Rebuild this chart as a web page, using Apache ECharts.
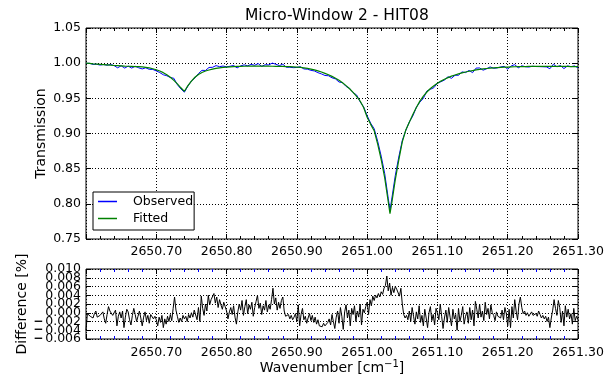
<!DOCTYPE html>
<html>
<head>
<meta charset="utf-8">
<script src="https://cdn.jsdelivr.net/npm/echarts@6/dist/echarts.min.js"></script>
<style>html,body{margin:0;padding:0;background:#fff}#c{width:607px;height:380px}</style>
</head>
<body>
<div id="c"></div>
<script>
// ---- data ----
const titleText = 'Micro-Window 2 - HIT08';
const seriesNames = ['Observed', 'Fitted'];
const xMin = 2650.60, xMax = 2651.30, xInterval = 0.1;
const topYMin = 0.75, topYMax = 1.05, topYInterval = 0.05;
const diffYMin = -0.006, diffYMax = 0.010, diffYInterval = 0.002;
// tick labels of the difference axis drawn on a second, identical axis (they overlap in the original)
const diffAltTicks = [0.008, -0.004];

const topWn = [
2650.600,2650.605,2650.610,2650.615,2650.620,2650.625,2650.630,2650.635,2650.640,2650.645,
2650.650,2650.655,2650.660,2650.665,2650.670,2650.675,2650.680,2650.685,2650.690,2650.695,
2650.700,2650.705,2650.710,2650.715,2650.720,2650.725,2650.730,2650.735,2650.740,2650.745,
2650.750,2650.755,2650.760,2650.765,2650.770,2650.775,2650.780,2650.785,2650.790,2650.795,
2650.800,2650.805,2650.810,2650.815,2650.820,2650.825,2650.830,2650.835,2650.840,2650.845,
2650.850,2650.855,2650.860,2650.865,2650.870,2650.875,2650.880,2650.885,2650.890,2650.895,
2650.900,2650.905,2650.910,2650.915,2650.920,2650.925,2650.930,2650.935,2650.940,2650.945,
2650.950,2650.955,2650.960,2650.965,2650.970,2650.975,2650.980,2650.985,2650.990,2650.995,
2651.000,2651.005,2651.010,2651.015,2651.020,2651.025,2651.030,2651.0325,2651.035,2651.040,
2651.045,2651.050,2651.055,2651.060,2651.065,2651.070,2651.075,2651.080,2651.085,2651.090,
2651.095,2651.100,2651.105,2651.110,2651.115,2651.120,2651.125,2651.130,2651.135,2651.140,
2651.145,2651.150,2651.155,2651.160,2651.165,2651.170,2651.175,2651.180,2651.185,2651.190,
2651.195,2651.200,2651.205,2651.210,2651.215,2651.220,2651.225,2651.230,2651.235,2651.240,
2651.245,2651.250,2651.255,2651.260,2651.265,2651.270,2651.275,2651.280,2651.285,2651.290,
2651.295,2651.300];

const fitted = [
1.0000,0.9996,0.9991,0.9987,0.9983,0.9979,0.9975,0.9971,0.9967,0.9964,
0.9961,0.9958,0.9956,0.9954,0.9952,0.9950,0.9946,0.9940,0.9932,0.9921,
0.9906,0.9888,0.9865,0.9835,0.9800,0.9755,0.9705,0.9650,0.9600,0.9680,
0.9745,0.9800,0.9840,0.9868,0.9888,0.9903,0.9915,0.9925,0.9933,0.9939,
0.9944,0.9948,0.9951,0.9953,0.9955,0.9956,0.9957,0.9958,0.9958,0.9958,
0.9958,0.9958,0.9957,0.9956,0.9955,0.9954,0.9953,0.9952,0.9950,0.9948,
0.9945,0.9940,0.9934,0.9926,0.9916,0.9905,0.9891,0.9875,0.9855,0.9835,
0.9812,0.9786,0.9756,0.9721,0.9681,0.9636,0.9585,0.9528,0.9462,0.9370,
0.9230,0.9130,0.9040,0.8850,0.8630,0.8370,0.8030,0.7860,0.8010,0.8340,
0.8620,0.8880,0.9050,0.9160,0.9270,0.9370,0.9460,0.9530,0.9590,0.9640,
0.9680,0.9715,0.9745,0.9772,0.9795,0.9815,0.9832,0.9848,0.9862,0.9874,
0.9885,0.9895,0.9904,0.9912,0.9918,0.9924,0.9929,0.9933,0.9937,0.9940,
0.9943,0.9945,0.9947,0.9949,0.9950,0.9951,0.9952,0.9953,0.9954,0.9954,
0.9955,0.9955,0.9955,0.9955,0.9955,0.9954,0.9954,0.9953,0.9953,0.9952,
0.9951,0.9950];

const observed = [
0.9996,0.9998,0.9983,0.9985,0.9973,0.9981,0.9971,0.9981,0.9965,0.9934,
0.9963,0.9930,0.9958,0.9930,0.9956,0.9934,0.9918,0.9934,0.9912,0.9911,
0.9890,0.9866,0.9835,0.9821,0.9796,0.9785,0.9695,0.9634,0.9588,0.9674,
0.9747,0.9790,0.9852,0.9898,0.9896,0.9939,0.9941,0.9965,0.9951,0.9959,
0.9948,0.9956,0.9967,0.9933,0.9961,0.9976,0.9963,0.9982,0.9970,0.9994,
0.9954,0.9978,0.9975,1.0001,0.9985,0.9966,0.9985,0.9942,0.9942,0.9936,
0.9939,0.9950,0.9918,0.9914,0.9898,0.9889,0.9865,0.9847,0.9825,0.9821,
0.9792,0.9776,0.9732,0.9723,0.9669,0.9642,0.9581,0.9548,0.9452,0.9378,
0.9254,0.9146,0.9068,0.8890,0.8678,0.8430,0.8080,0.7910,0.8068,0.8400,
0.8665,0.8900,0.9044,0.9164,0.9250,0.9372,0.9446,0.9500,0.9604,0.9628,
0.9652,0.9715,0.9737,0.9760,0.9807,0.9785,0.9828,0.9828,0.9876,0.9866,
0.9897,0.9865,0.9930,0.9932,0.9900,0.9920,0.9947,0.9927,0.9933,0.9946,
0.9955,0.9915,0.9961,0.9979,0.9934,0.9963,0.9950,0.9945,0.9956,0.9952,
0.9951,0.9949,0.9947,0.9921,0.9985,0.9948,0.9966,0.9923,0.9961,0.9950,
0.9961,0.9934];

// Difference (observed - fitted), sampled every 0.002 cm-1 from 2650.600
const diffStart = 2650.600, diffStep = 0.002;
const difference = [
-0.0040,-0.0002,0.0002,-0.0008,-0.0006,-0.0012,-0.0002,0.0004,-0.0010,-0.0006,
-0.0006,-0.0010,0.0002,-0.0014,-0.0024,-0.0004,0.0014,0.0004,0.0008,-0.0006,
-0.0002,0.0006,-0.0030,-0.0008,0.0002,-0.0012,0.0004,-0.0034,-0.0010,0.0008,
0.0002,-0.0016,-0.0028,-0.0006,0.0010,-0.0004,-0.0020,-0.0008,0.0004,-0.0012,
-0.0030,-0.0010,0.0002,-0.0018,-0.0006,-0.0024,-0.0004,0.0000,-0.0014,-0.0008,
-0.0016,-0.0030,-0.0010,-0.0022,-0.0006,-0.0034,-0.0014,-0.0026,-0.0008,-0.0020,
-0.0004,-0.0018,0.0010,0.0036,0.0006,-0.0008,-0.0022,-0.0012,-0.0020,-0.0006,
-0.0014,-0.0008,-0.0020,-0.0004,-0.0012,0.0000,-0.0010,0.0006,0.0002,-0.0016,
0.0012,-0.0020,0.0038,0.0010,-0.0006,0.0020,0.0004,0.0040,0.0018,0.0030,
0.0026,0.0044,0.0022,0.0036,0.0012,0.0030,0.0018,0.0008,0.0024,0.0014,
0.0004,-0.0014,0.0002,0.0012,-0.0004,0.0016,-0.0010,-0.0026,0.0002,0.0020,
0.0006,0.0028,-0.0006,0.0014,0.0030,-0.0002,0.0018,0.0008,0.0024,-0.0008,
0.0012,0.0026,0.0040,0.0010,0.0022,-0.0004,0.0016,0.0006,0.0028,0.0002,
0.0018,0.0008,0.0030,0.0056,0.0020,0.0034,0.0006,0.0024,0.0010,0.0028,
0.0036,0.0004,-0.0008,-0.0012,-0.0004,-0.0014,-0.0006,-0.0016,-0.0010,-0.0002,
-0.0020,0.0018,-0.0030,-0.0004,0.0010,-0.0016,-0.0008,-0.0024,-0.0012,-0.0002,
-0.0018,-0.0006,-0.0022,-0.0010,-0.0026,-0.0016,-0.0030,-0.0028,-0.0032,-0.0024,
-0.0030,-0.0034,-0.0022,-0.0014,-0.0028,-0.0004,-0.0020,-0.0036,-0.0010,0.0004,
-0.0024,0.0012,-0.0008,-0.0038,0.0002,0.0018,-0.0012,0.0006,-0.0030,0.0010,
-0.0004,0.0016,-0.0020,0.0004,-0.0010,0.0020,-0.0028,0.0008,0.0000,0.0014,
0.0024,-0.0004,0.0030,0.0016,0.0038,0.0028,0.0040,0.0034,0.0044,0.0036,
0.0048,0.0042,0.0056,0.0062,0.0084,0.0050,0.0068,0.0040,0.0058,0.0046,
0.0060,0.0054,0.0050,0.0038,0.0056,0.0020,-0.0004,-0.0012,-0.0006,-0.0016,
0.0004,-0.0020,0.0012,-0.0008,-0.0026,0.0002,-0.0014,0.0016,-0.0022,-0.0006,
-0.0030,0.0008,-0.0012,-0.0034,0.0000,0.0014,-0.0018,-0.0004,-0.0028,0.0010,
0.0000,-0.0016,0.0020,-0.0008,-0.0036,-0.0012,0.0006,-0.0022,0.0012,-0.0010,
-0.0030,0.0008,-0.0014,-0.0004,-0.0040,0.0010,-0.0020,-0.0006,0.0014,-0.0026,
-0.0008,0.0002,-0.0024,0.0012,-0.0016,0.0006,-0.0030,0.0026,0.0008,-0.0012,
0.0020,-0.0010,0.0004,-0.0018,0.0024,-0.0004,0.0010,-0.0014,0.0018,0.0000,
-0.0006,-0.0018,0.0002,-0.0008,-0.0004,-0.0012,0.0006,-0.0016,0.0012,-0.0002,
-0.0030,0.0008,-0.0034,0.0014,-0.0012,0.0030,0.0004,-0.0016,0.0020,0.0036,
0.0012,-0.0002,0.0004,-0.0006,0.0000,-0.0008,-0.0004,0.0002,-0.0006,-0.0010,
-0.0002,-0.0008,0.0004,-0.0004,-0.0012,-0.0006,-0.0014,-0.0008,-0.0020,-0.0010,
-0.0034,-0.0012,0.0006,0.0030,0.0010,-0.0006,0.0028,0.0012,-0.0022,0.0004,
-0.0030,0.0016,-0.0010,0.0008,-0.0014,-0.0002,-0.0026,0.0010,-0.0018,-0.0008,
-0.0016];

// ---- build ----
const FONT = 'DejaVu Sans';
const diffWn = difference.map((_, i) => +(diffStart + i * diffStep).toFixed(3));
const obsData = topWn.map((x, i) => [x, observed[i]]);
const fitData = topWn.map((x, i) => [x, fitted[i]]);
const diffData = diffWn.map((x, i) => [x, difference[i]]);

const dotted = { show: true, lineStyle: { color: '#000', type: [1, 2], width: 1 } };
const lblStyle = { color: '#000', fontFamily: FONT, fontSize: 12.5 };

function xAxisFor(gridIndex, position, labelMargin, minorColor) {
  const bottom = position === 'bottom';
  return {
    type: 'value', gridIndex, position, min: xMin, max: xMax, interval: xInterval,
    axisLine: { show: false, onZero: false },
    axisTick: { show: true, inside: true, length: 5, lineStyle: { color: '#000' } },
    minorTick: { show: true, splitNumber: 5, length: 3, lineStyle: { color: minorColor, width: 1 } },
    axisLabel: Object.assign({ show: bottom, margin: labelMargin, showMinLabel: false, showMaxLabel: true,
      hideOverlap: false, formatter: v => v.toFixed(2) }, lblStyle),
    splitLine: bottom ? dotted : { show: false }
  };
}

function yAxisFor(gridIndex, position, min, max, interval, withLabels) {
  return {
    type: 'value', gridIndex, position, min, max, interval,
    axisLine: { show: false, onZero: false },
    axisTick: { show: true, inside: true, length: 5, lineStyle: { color: '#000' } },
    axisLabel: Object.assign({ show: withLabels, margin: 5, showMinLabel: true, showMaxLabel: true,
      hideOverlap: false }, lblStyle),
    splitLine: withLabels ? dotted : { show: false }
  };
}

const isAlt = v => diffAltTicks.some(t => Math.abs(t - v) < 1e-9);
const diffLabel = v => {
  if (Math.abs(v) < 1e-9) return '{v|0.000}';
  return v < 0 ? '{m|\u2212}{v|' + Math.abs(v).toFixed(3) + '}' : '{v|' + v.toFixed(3) + '}';
};
const diffRich = {
  v: { color: '#000', fontFamily: FONT, fontSize: 12.5 },
  m: { color: '#000', fontFamily: FONT, fontSize: 12, fontWeight: 'bold', width: 12, align: 'left' }
};

const yTop = yAxisFor(0, 'left', topYMin, topYMax, topYInterval, true);
yTop.axisLabel.formatter = v => v.toFixed(2);
yTop.name = 'Transmission';
yTop.nameLocation = 'middle';
yTop.nameGap = 38;
yTop.nameMoveOverlap = false;
yTop.nameTextStyle = { color: '#000', fontFamily: FONT, fontSize: 14 };

const yDiff = yAxisFor(1, 'left', diffYMin, diffYMax, diffYInterval, true);
yDiff.axisLabel.formatter = v => isAlt(v) ? '' : diffLabel(v);
yDiff.axisLabel.rich = diffRich;
yDiff.name = 'Difference [%]';
yDiff.nameLocation = 'middle';
yDiff.nameGap = 57;
yDiff.nameMoveOverlap = false;
yDiff.nameTextStyle = { color: '#000', fontFamily: FONT, fontSize: 14 };

const yDiffAlt = yAxisFor(1, 'left', diffYMin, diffYMax, diffYInterval, true);
yDiffAlt.splitLine = { show: false };
yDiffAlt.axisTick = { show: false };
yDiffAlt.axisLabel.formatter = v => isAlt(v) ? diffLabel(v) : '';
yDiffAlt.axisLabel.rich = diffRich;

const xDiffBottom = xAxisFor(1, 'bottom', 7, '#0000ff');
xDiffBottom.name = 'Wavenumber [cm{sup|\u22121}]';
xDiffBottom.nameLocation = 'middle';
xDiffBottom.nameGap = 20;
xDiffBottom.nameMoveOverlap = false;
xDiffBottom.nameTextStyle = {
  color: '#000', fontFamily: FONT, fontSize: 14, lineHeight: 18,
  rich: { sup: { color: '#000', fontFamily: FONT, fontSize: 10, verticalAlign: 'top', lineHeight: 10 } }
};

const xTopBottom = xAxisFor(0, 'bottom', 6, '#000');

const chart = echarts.init(document.getElementById('c'), null, { renderer: 'canvas' });
chart.setOption({
  animation: false,
  backgroundColor: '#fff',
  title: {
    text: titleText, left: 240, top: 3,
    textStyle: { color: '#000', fontFamily: FONT, fontSize: 15.5, fontWeight: 'normal' }
  },
  legend: {
    data: seriesNames, orient: 'vertical', left: 93, top: 192,
    icon: 'rect', itemWidth: 19, itemHeight: 1.5, itemGap: 4,
    padding: [3, 1, 5, 5],
    borderColor: '#000', borderWidth: 1, backgroundColor: '#fff', borderRadius: 0,
    textStyle: { color: '#000', fontFamily: FONT, fontSize: 12.5, padding: [0, 0, 0, 11] }
  },
  grid: [
    { left: 86, top: 28, width: 492, height: 211, show: true, borderColor: '#000', borderWidth: 1, backgroundColor: 'transparent' },
    { left: 86, top: 269, width: 492, height: 70, show: true, borderColor: '#000', borderWidth: 1, backgroundColor: 'transparent' }
  ],
  xAxis: [
    xTopBottom,
    xAxisFor(0, 'top', 3, '#000'),
    xDiffBottom,
    xAxisFor(1, 'top', 3, '#0000ff')
  ],
  yAxis: [
    yTop,
    yAxisFor(0, 'right', topYMin, topYMax, topYInterval, false),
    yDiff,
    yAxisFor(1, 'right', diffYMin, diffYMax, diffYInterval, false),
    yDiffAlt
  ],
  series: [
    { name: seriesNames[0], type: 'line', xAxisIndex: 0, yAxisIndex: 0, data: obsData,
      showSymbol: false, symbol: 'none', color: '#0000ff', lineStyle: { width: 1, color: '#0000ff' } },
    { name: seriesNames[1], type: 'line', xAxisIndex: 0, yAxisIndex: 0, data: fitData,
      showSymbol: false, symbol: 'none', color: '#008000', lineStyle: { width: 1.2, color: '#008000' } },
    { name: 'Difference', type: 'line', xAxisIndex: 2, yAxisIndex: 2, data: diffData,
      showSymbol: false, symbol: 'none', color: '#000', lineStyle: { width: 1, color: '#000' } }
  ]
});
</script>
</body>
</html>
